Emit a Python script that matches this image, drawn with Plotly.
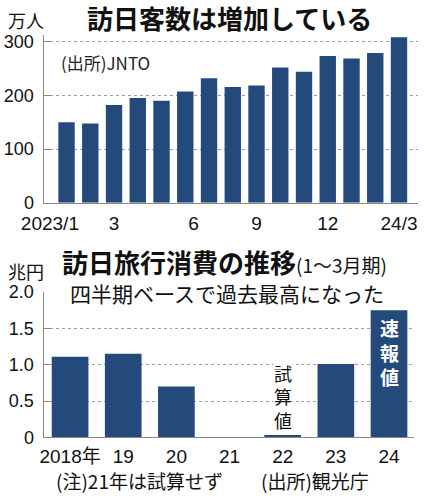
import plotly.graph_objects as go

# ---- Data: monthly visitors (10k persons) ----
visitor_months = ["2023/1", "2023/2", "2023/3", "2023/4", "2023/5", "2023/6", "2023/7",
                  "2023/8", "2023/9", "2023/10", "2023/11", "2023/12", "2024/1", "2024/2", "2024/3"]
visitors = [149.7, 147.5, 181.8, 194.9, 189.9, 207.3, 232.0, 215.6, 218.4, 251.7,
            244.1, 273.4, 268.8, 278.8, 308.2]
top_tick_labels = ["2023/1", "3", "6", "9", "12", "24/3"]
top_y_ticks = [0, 100, 200, 300]

# ---- Data: Jan-Mar inbound spending (trillion yen) ----
years = ["2018年", "19", "20", "21", "22", "23", "24"]
spending = [1.11, 1.15, 0.70, None, 0.03, 1.01, 1.75]
bottom_y_ticks = [0, 0.5, 1.0, 1.5, 2.0]
bottom_y_labels = ["0", "0.5", "1.0", "1.5", "2.0"]

W, H = 425, 496
BAR = "#234a7b"
AX = "#8a8a8a"
GRID = "#a0a0a0"
TXT = "#111111"
NUM = "Liberation Sans, Arial, Noto Sans CJK JP, sans-serif"
JP = "Noto Sans CJK JP, Noto Sans, sans-serif"


def px(x):
    return x / W


def py(y):
    return 1 - y / H


fig = go.Figure()
fig.add_trace(go.Bar(x=list(range(len(visitors))), y=visitors, width=0.69,
                     marker=dict(color=BAR, line=dict(width=0)),
                     xaxis="x", yaxis="y", hoverinfo="skip"))
fig.add_trace(go.Bar(x=list(range(len(years))), y=spending, width=0.69,
                     marker=dict(color=BAR, line=dict(width=0)),
                     xaxis="x2", yaxis="y2", hoverinfo="skip"))

top_tick_pos = [-0.7, 2, 5.35, 8, 11, 14]

fig.update_layout(
    width=W, height=H,
    margin=dict(l=0, r=0, t=0, b=0, autoexpand=False),
    paper_bgcolor="white", plot_bgcolor="white",
    showlegend=False,
    xaxis=dict(domain=[px(43.5), px(418)], range=[-0.97, 14.8], anchor="y",
               automargin=False,
               showline=True, linecolor=AX, linewidth=1, ticks="",
               tickmode="array", tickvals=top_tick_pos, ticktext=top_tick_labels,
               tickangle=0, ticklabelstandoff=3,
               tickfont=dict(family=NUM, size=19, color=TXT),
               showgrid=False, zeroline=False, fixedrange=True),
    yaxis=dict(domain=[py(202.7), py(35.2)], range=[0, 312], anchor="x",
               automargin=False,
               tickmode="array", tickvals=top_y_ticks,
               showgrid=True, gridcolor=GRID, griddash="dot", gridwidth=1,
               showline=True, linecolor=AX, linewidth=1,
               ticks="inside", ticklen=7, tickcolor=AX,
               ticklabelstandoff=5,
               tickfont=dict(family=NUM, size=18, color=TXT),
               zeroline=False, fixedrange=True),
    xaxis2=dict(domain=[px(43.5), px(414)], range=[-0.5, 6.47], anchor="y2",
                automargin=False,
                showline=True, linecolor=AX, linewidth=1, ticks="",
                tickmode="array", tickvals=list(range(len(years))), ticktext=years,
                tickangle=0, ticklabelstandoff=2,
                tickfont=dict(family=NUM, size=19, color=TXT),
                showgrid=False, zeroline=False, fixedrange=True),
    yaxis2=dict(domain=[py(437.3), py(292.1)], range=[0, 2.0], anchor="x2",
                automargin=False,
                tickmode="array", tickvals=bottom_y_ticks, ticktext=bottom_y_labels,
                showgrid=False,
                minor=dict(tickmode="array", tickvals=[0.5, 1.0, 1.5], showgrid=True,
                           gridcolor=GRID, griddash="dot", gridwidth=1, ticks=""),
                showline=True, linecolor=AX, linewidth=1,
                ticks="inside", ticklen=7, tickcolor=AX,
                ticklabelstandoff=5,
                tickfont=dict(family=NUM, size=18, color=TXT),
                zeroline=False, fixedrange=True),
)

ann = []
# top chart texts
ann.append(dict(text="<b>訪日客数は増加している</b>", x=px(229), y=py(17), xref="paper", yref="paper",
                xanchor="center", yanchor="middle", showarrow=False,
                font=dict(family=JP, size=26, color=TXT)))
ann.append(dict(text="万人", x=px(6), y=py(20), xref="paper", yref="paper",
                xanchor="left", yanchor="middle", showarrow=False,
                font=dict(family=JP, size=18, color=TXT)))
ann.append(dict(text="(出所)JNTO", x=px(59), y=py(62), xref="paper", yref="paper",
                xanchor="left", yanchor="middle", showarrow=False,
                font=dict(family=JP, size=17, color="#222222")))
# bottom chart texts
ann.append(dict(text="<b>訪日旅行消費の推移</b><span style='font-size:19px'>(1～3月期)</span>",
                x=px(61), y=py(261), xref="paper", yref="paper",
                xanchor="left", yanchor="middle", showarrow=False, borderpad=0,
                font=dict(family=JP, size=26, color=TXT)))
ann.append(dict(text="兆円", x=px(6), y=py(271), xref="paper", yref="paper",
                xanchor="left", yanchor="middle", showarrow=False,
                font=dict(family=JP, size=18, color=TXT)))
ann.append(dict(text="四半期ベースで過去最高になった", x=px(227), y=py(293), xref="paper", yref="paper",
                xanchor="center", yanchor="middle", showarrow=False, borderpad=0,
                font=dict(family=JP, size=21, color=TXT)))
ann.append(dict(text="(注)21年は試算せず", x=px(54), y=py(480), xref="paper", yref="paper",
                xanchor="left", yanchor="middle", showarrow=False,
                font=dict(family=JP, size=19, color=TXT)))
ann.append(dict(text="(出所)観光庁", x=px(259), y=py(480), xref="paper", yref="paper",
                xanchor="left", yanchor="middle", showarrow=False,
                font=dict(family=JP, size=19, color=TXT)))

# vertical label above the 2022 bar (試算値)
ann.append(dict(text="<br>".join("試算値"), x=4, y=spending[4], xref="x2", yref="y2",
                xanchor="center", yanchor="bottom", showarrow=False,
                yshift=1, bgcolor="white", borderpad=0,
                font=dict(family=JP, size=18, color=TXT)))
# vertical label inside the 2024 bar (速報値)
ann.append(dict(text="<b>" + "<br>".join("速報値") + "</b>", x=6, y=spending[6], xref="x2", yref="y2",
                xanchor="center", yanchor="top", showarrow=False,
                yshift=-3, borderpad=0,
                font=dict(family=JP, size=19, color="white")))

fig.update_layout(annotations=ann)
fig.write_html("out.html", config={"displayModeBar": False},
               post_script="document.body.style.margin='0';document.body.style.overflow='hidden';")
